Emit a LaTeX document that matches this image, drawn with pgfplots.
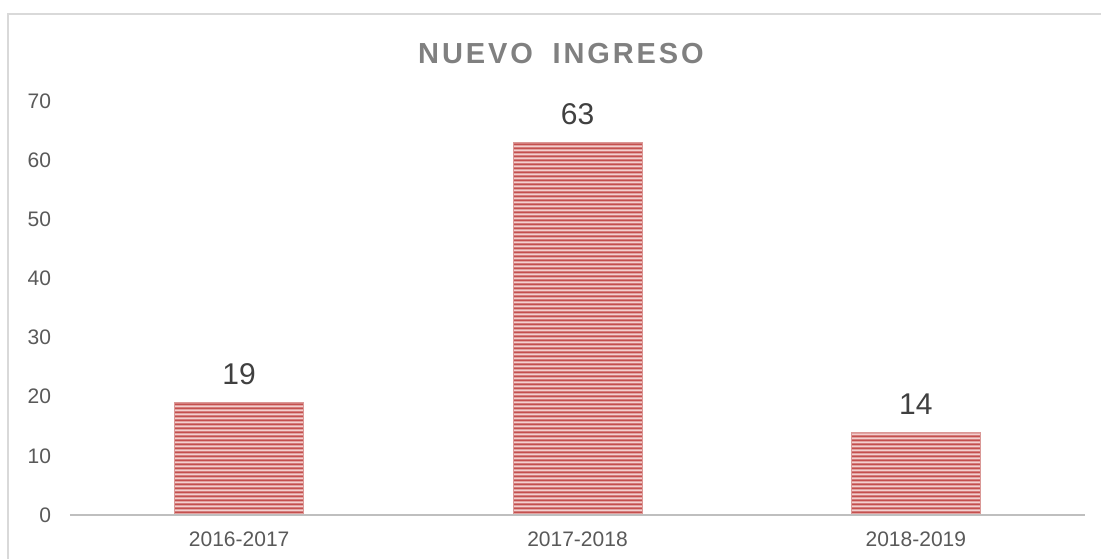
\documentclass[border=0pt]{standalone}
\usepackage{pgfplots}
\pgfplotsset{compat=1.18}
\usepackage{fontspec}
\setmainfont{Liberation Sans}
\usetikzlibrary{patterns}
\pgfdeclarepatternformonly{hstripes}{\pgfpoint{0pt}{0pt}}{\pgfpoint{300pt}{1.75pt}}{\pgfpoint{300pt}{1.75pt}}{%
  \pgfpathrectangle{\pgfpoint{-1pt}{0.35pt}}{\pgfpoint{302pt}{1.1pt}}\pgfusepath{fill}}
\definecolor{frame}{HTML}{D9D9D9}
\definecolor{axisgray}{HTML}{BFBFBF}
\definecolor{ticktext}{HTML}{595959}
\definecolor{titletext}{HTML}{808080}
\definecolor{valtext}{HTML}{404040}
\definecolor{barred}{HTML}{C4504E}
\definecolor{barlight}{HTML}{F3D0CF}
\definecolor{baredge}{HTML}{DA9896}
\begin{document}
\begin{tikzpicture}
\useasboundingbox (0,0) rectangle (550.5pt,279.5pt);
\draw[frame, line width=1pt] (4pt,0) -- (4pt,272.5pt) -- (551pt,272.5pt);
\node[titletext, font={\fontsize{14.5}{14.5}\selectfont\bfseries\addfontfeature{LetterSpace=10}}] at (280.5pt,252.5pt) {NUEVO\ \hspace{0.3em}INGRESO};
\begin{axis}[
  at={(35pt,22pt)}, anchor=south west,
  scale only axis, width=507.5pt, height=207pt,
  xmin=-0.5, xmax=2.5, ymin=0, ymax=70,
  ytick={0,10,...,70},
  xtick={0,1,2},
  xticklabels={2016-2017,2017-2018,2018-2019},
  axis line style={draw=none},
  major tick length=0pt,
  tick style={draw=none},
  /pgf/number format/assume math mode=true,
  ticklabel style={font=\fontsize{10.5}{10.5}\selectfont, text=ticktext},
  yticklabel style={xshift=-6pt},
  xticklabel style={yshift=-5pt},
  clip=false,
]
\addplot[ybar, bar width=64.5pt, bar shift=0pt, draw=baredge, line width=0.4pt, fill=barlight,
  postaction={pattern=hstripes, pattern color=barred},
  nodes near coords,
  nodes near coords style={font=\fontsize{15}{15}\selectfont, text=valtext, anchor=south, yshift=5.5pt},
] coordinates {(0,19) (1,63) (2,14)};
\draw[axisgray, line width=1.2pt] (rel axis cs:0,0) -- (rel axis cs:1,0);
\end{axis}
\end{tikzpicture}
\end{document}
